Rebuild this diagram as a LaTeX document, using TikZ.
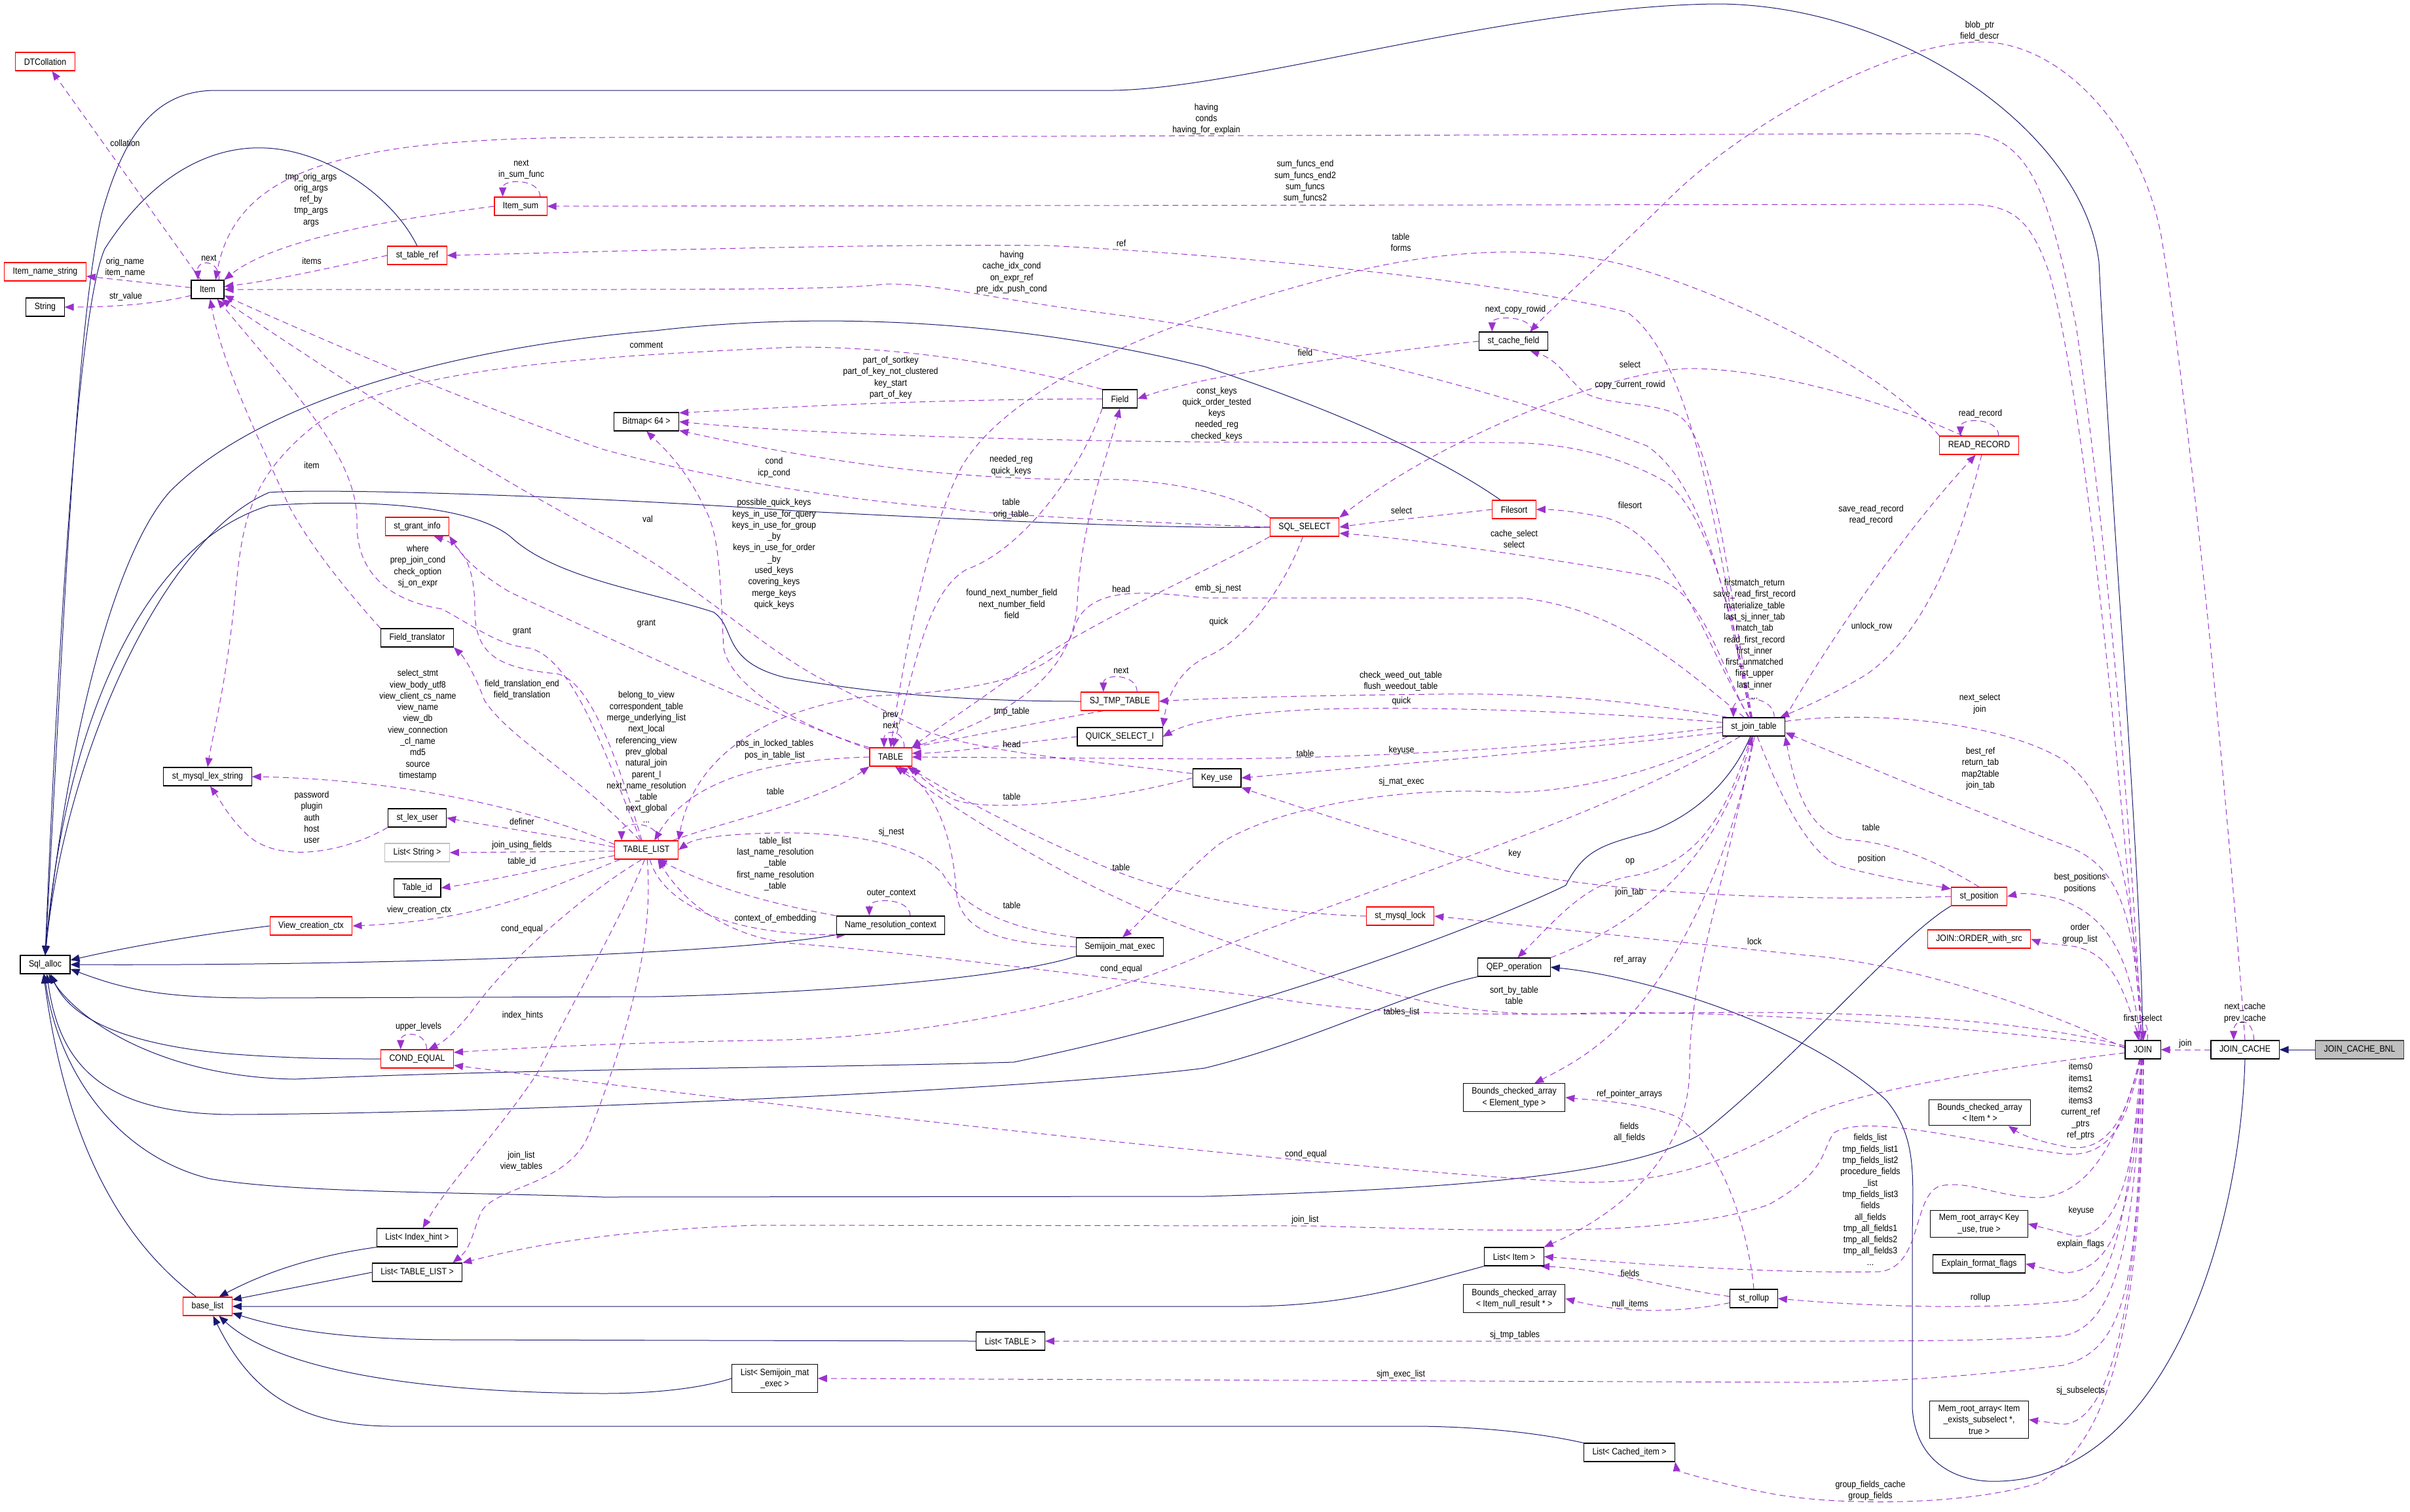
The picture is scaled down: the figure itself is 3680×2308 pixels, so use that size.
\documentclass[tikz,border=0pt]{standalone}
\usepackage{fontspec}
\setmainfont{Liberation Sans}[FakeStretch=0.88]
\usetikzlibrary{arrows.meta}
\pgfdeclarelayer{edges}
\pgfsetlayers{edges,main}
\definecolor{usecol}{HTML}{9A32CD}
\definecolor{inhcol}{HTML}{191970}
\definecolor{boxgray}{HTML}{BFBFBF}

\begin{document}
\begin{tikzpicture}[
    x=1pt, y=-1pt,
    font=\fontsize{14}{17.3}\selectfont,
    >={Triangle[length=14pt,width=11pt]},
    cls/.style={draw=black, fill=white, line width=1.1pt, inner xsep=13pt,
                inner ysep=6pt, minimum height=28pt, align=center},
    redcls/.style={cls, draw=red},
    graycls/.style={cls, draw=boxgray},
    focus/.style={cls, fill=boxgray, draw=black!75},
    use/.style={->, draw=usecol, line width=1pt, dash pattern=on 9pt off 6pt},
    inh/.style={<-, draw=inhcol, line width=1pt},
    lbl/.style={align=center, inner sep=0pt}
  ]
  \useasboundingbox (0,0) rectangle (3680,2308);

  % Classes
  \node[redcls] (n_dtc) at (69,94) {DTCollation};
  \node[redcls] (n_ins) at (69,415) {Item\_name\_string};
  \node[cls] (n_str) at (69,469) {String};
  \node[cls] (n_item) at (317,442) {Item};
  \node[redcls] (n_isum) at (795,315) {Item\_sum};
  \node[redcls] (n_tref) at (637,390) {st\_table\_ref};
  \node[cls] (n_bmp) at (987,644) {Bitmap< 64 >};
  \node[cls] (n_field) at (1710,609) {Field};
  \node[cls] (n_cfield) at (2311,521) {st\_cache\_field};
  \node[redcls] (n_fsort) at (2312,778) {Filesort};
  \node[redcls] (n_rr) at (3022,680) {READ\_RECORD};
  \node[redcls] (n_grant) at (637,804) {st\_grant\_info};
  \node[cls] (n_ftr) at (637,974) {Field\_translator};
  \node[cls] (n_lex) at (317,1186) {st\_mysql\_lex\_string};
  \node[cls] (n_luser) at (637,1249) {st\_lex\_user};
  \node[graycls] (n_lstr) at (637,1302) {List< String >};
  \node[cls] (n_tid) at (637,1356) {Table\_id};
  \node[redcls] (n_vctx) at (475,1414) {View\_creation\_ctx};
  \node[cls] (n_alloc) at (69,1473) {Sql\_alloc};
  \node[redcls] (n_sel) at (1992,805) {SQL\_SELECT};
  \node[redcls] (n_table) at (1360,1156) {TABLE};
  \node[redcls] (n_tl) at (987,1298) {TABLE\_LIST};
  \node[redcls] (n_sjtmp) at (1710,1071) {SJ\_TMP\_TABLE};
  \node[cls] (n_quick) at (1710,1125) {QUICK\_SELECT\_I};
  \node[cls] (n_keyuse) at (1858,1188) {Key\_use};
  \node[cls] (n_nrc) at (1360,1413) {Name\_resolution\_context};
  \node[cls] (n_sjm) at (1710,1446) {Semijoin\_mat\_exec};
  \node[cls] (n_jt) at (2678,1110) {st\_join\_table};
  \node[redcls] (n_lock) at (2138,1399) {st\_mysql\_lock};
  \node[cls] (n_qep) at (2312,1477) {QEP\_operation};
  \node[redcls] (n_pos) at (3022,1369) {st\_position};
  \node[redcls] (n_ord) at (3022,1434) {JOIN::ORDER\_with\_src};
  \node[redcls] (n_ceq) at (637,1617) {COND\_EQUAL};
  \node[cls] (n_lih) at (637,1890) {List< Index\_hint >};
  \node[cls] (n_ltl) at (637,1943) {List< TABLE\_LIST >};
  \node[redcls] (n_blist) at (317,1995) {base\_list};
  \node[cls] (n_ltab) at (1543,2048) {List< TABLE >};
  \node[cls] (n_lsjm) at (1183,2105) {List< Semijoin\_mat\\\_exec >};
  \node[cls] (n_bcae) at (2312,1676) {Bounds\_checked\_array\\< Element\_type >};
  \node[cls] (n_litem) at (2312,1919) {List< Item >};
  \node[cls] (n_bcan) at (2312,1983) {Bounds\_checked\_array\\< Item\_null\_result * >};
  \node[cls] (n_rollup) at (2678,1983) {st\_rollup};
  \node[cls] (n_lci) at (2488,2218) {List< Cached\_item >};
  \node[cls] (n_join) at (3272,1603) {JOIN};
  \node[cls] (n_jc) at (3428,1603) {JOIN\_CACHE};
  \node[focus] (n_bnl) at (3603,1603) {JOIN\_CACHE\_BNL};
  \node[cls] (n_bcai) at (3023,1699) {Bounds\_checked\_array\\< Item * >};
  \node[cls] (n_mrk) at (3022,1869) {Mem\_root\_array< Key\\\_use, true >};
  \node[cls] (n_eff) at (3022,1930) {Explain\_format\_flags};
  \node[cls] (n_mrs) at (3022,2168) {Mem\_root\_array< Item\\\_exists\_subselect *,\\true >};

  \begin{pgfonlayer}{edges}
  % Inheritance
  \draw[inh] (n_alloc.north) .. controls (95,1000) and (115,500) .. (155,328)
    .. controls (190,200) and (240,138) .. (330,138) -- (1700,138)
    .. controls (1900,135) and (2300,10) .. (2620,6)
    .. controls (2900,6) and (3180,200) .. (3205,400)
    .. controls (3225,800) and (3268,1300) .. (n_join.north);
  \draw[inh] (n_alloc.north) .. controls (90,950) and (120,470) .. (160,380)
    .. controls (230,270) and (320,222) .. (405,226)
    .. controls (500,230) and (600,300) .. (n_tref.north);
  \draw[inh] (n_alloc.north) .. controls (100,1150) and (170,850) .. (260,750)
    .. controls (400,610) and (700,530) .. (1000,505)
    .. controls (1300,470) and (1600,500) .. (1840,560)
    .. controls (2050,630) and (2200,700) .. (n_fsort);
  \draw[inh] (n_alloc.north) .. controls (100,1150) and (250,820) .. (411,752)
    .. controls (500,745) and (900,758) .. (1213,780)
    .. controls (1500,795) and (1800,808) .. (n_sel.west);
  \draw[inh] (n_alloc.north) .. controls (100,1100) and (220,830) .. (411,772)
    .. controls (550,762) and (720,770) .. (780,820)
    .. controls (850,885) and (1000,905) .. (1090,935)
    .. controls (1125,960) and (1100,1010) .. (1200,1035)
    .. controls (1350,1062) and (1500,1071) .. (n_sjtmp.west);
  \draw[inh] (n_alloc.10) .. controls (200,1445) and (300,1428) .. (n_vctx.west);
  \draw[inh] (n_alloc.east) .. controls (500,1475) and (1100,1460) .. (n_nrc.south west);
  \draw[inh] (n_alloc.-10) .. controls (200,1515) and (260,1524) .. (400,1524) -- (1000,1522)
    .. controls (1300,1515) and (1550,1490) .. (n_sjm.south west);
  \draw[inh] (n_alloc.-60) .. controls (110,1560) and (200,1595) .. (346,1609)
    .. controls (450,1617) and (520,1617) .. (n_ceq.west);
  \draw[inh] (n_alloc.-70) .. controls (120,1560) and (250,1645) .. (450,1648)
    .. controls (800,1632) and (1300,1630) .. (1548,1622)
    .. controls (1900,1550) and (2250,1420) .. (2391,1352)
    .. controls (2420,1295) and (2450,1290) .. (2520,1270)
    .. controls (2600,1240) and (2650,1180) .. (n_jt.-110);
  \draw[inh] (n_alloc.-80) .. controls (90,1620) and (150,1700) .. (352,1702)
    .. controls (800,1700) and (1600,1662) .. (1840,1631)
    .. controls (2000,1592) and (2150,1515) .. (n_qep.south west);
  \draw[inh] (n_alloc.-95) .. controls (90,1640) and (180,1765) .. (320,1800)
    .. controls (450,1822) and (700,1820) .. (920,1828) -- (1840,1827)
    .. controls (2250,1815) and (2500,1792) .. (2600,1730)
    .. controls (2750,1610) and (2900,1430) .. (n_pos.south west);
  \draw[inh] (n_alloc.-100) .. controls (95,1700) and (160,1875) .. (n_blist.140);
  \draw[inh] (n_blist.40) .. controls (420,1935) and (500,1915) .. (n_lih.south west);
  \draw[inh] (n_blist.15) -- (n_ltl.west);
  \draw[inh] (n_blist.east) -- (1900,1995) .. controls (2050,1995) and (2150,1965) .. (n_litem.south west);
  \draw[inh] (n_blist.-15) .. controls (450,2035) and (550,2046) .. (700,2046) -- (n_ltab.west);
  \draw[inh] (n_blist.-40) .. controls (400,2070) and (550,2126) .. (920,2128)
    .. controls (1000,2128) and (1070,2120) .. (n_lsjm.west);
  \draw[inh] (n_blist.-60) .. controls (380,2120) and (450,2178) .. (600,2178) -- (2170,2178)
    .. controls (2300,2180) and (2380,2195) .. (n_lci.north west);
  \draw[inh] (n_qep.east) .. controls (2500,1490) and (2750,1560) .. (2880,1680)
    .. controls (2930,1740) and (2920,1800) .. (2920,1900) -- (2920,2150)
    .. controls (2925,2235) and (2990,2265) .. (3053,2262)
    .. controls (3300,2255) and (3420,1900) .. (n_jc.south);
  \draw[inh] (n_jc.east) -- (n_bnl.west);

  % Item
  \draw[use] (n_item) -- (n_dtc);
  \draw[use] (n_item) -- (n_ins);
  \draw[use] (n_item.200) .. controls (230,466) and (160,469) .. (n_str.east);
  \draw[use] (n_item.40) .. controls +(2,-32) and +(-2,-32) .. (n_item.135);
  \draw[use] (n_isum.west) .. controls (600,335) and (420,365) .. (n_item.30);
  \draw[use] (n_isum.26) .. controls +(0,-28) and +(0,-28) .. (n_isum.152);
  \draw[use] (n_tref.west) .. controls (500,410) and (420,428) .. (n_item.10);
  \draw[use] (n_ftr.north west) .. controls (540,915) and (470,830) .. (440,770)
    .. controls (400,680) and (340,560) .. (n_item.-75);
  \draw[use] (n_sel.west) .. controls (1800,800) and (1500,786) .. (1448,776)
    .. controls (1250,760) and (1050,722) .. (920,686)
    .. controls (700,610) and (450,500) .. (n_item.-20);
  \draw[use] (n_keyuse.170) .. controls (1700,1165) and (1480,1150) .. (1400,1110)
    .. controls (1330,1075) and (1300,1060) .. (1249,1034)
    .. controls (1150,980) and (1050,880) .. (920,815)
    .. controls (700,700) and (450,530) .. (n_item.-35);

  % JOIN, upper part
  \draw[use] (n_join.97) .. controls (3245,1100) and (3200,700) .. (3170,497)
    .. controls (3130,300) and (3100,204) .. (3000,204) -- (920,210)
    .. controls (520,210) and (360,260) .. (n_item.50);
  \draw[use] (n_join.94) .. controls (3230,1100) and (3180,600) .. (3130,420)
    .. controls (3100,330) and (3070,312) .. (3000,312) -- (n_isum.east);
  \draw[use] (n_jc.north) .. controls (3400,1200) and (3340,600) .. (3300,360)
    .. controls (3270,200) and (3150,64) .. (3024,64)
    .. controls (2880,64) and (2650,200) .. (2544,308)
    .. controls (2450,400) and (2380,460) .. (n_cfield.30);
  \draw[use] (n_cfield.27) .. controls +(0,-25) and +(0,-25) .. (n_cfield.156);
  \draw[use] (n_cfield.west) .. controls (2050,545) and (1850,570) .. (n_field.east);

  % READ_RECORD
  \draw[use] (n_rr.north west) .. controls (2900,590) and (2700,470) .. (2500,410)
    .. controls (2400,380) and (2250,372) .. (2075,413)
    .. controls (1800,480) and (1550,580) .. (1470,710)
    .. controls (1420,800) and (1380,1000) .. (n_table.north);
  \draw[use] (n_rr.150) .. controls (2900,620) and (2700,560) .. (2573,563)
    .. controls (2450,570) and (2200,670) .. (n_sel.north east);
  \draw[use] (n_rr.26) .. controls +(0,-28) and +(0,-28) .. (n_rr.153);
  \draw[use] (n_rr.-75) .. controls (3000,800) and (2950,960) .. (2850,1030)
    .. controls (2800,1060) and (2760,1078) .. (n_jt.20);

  % st_join_table
  \draw[use] (n_jt.25) .. controls +(0,-35) and +(0,-35) .. (n_jt.155);
  \draw[use] (n_jt.105) .. controls (2630,900) and (2600,560) .. (2485,477)
    .. controls (2300,430) and (1900,390) .. (1600,375)
    .. controls (1300,372) and (900,385) .. (n_tref.east);
  \draw[use] (n_jt.110) .. controls (2635,900) and (2600,740) .. (2515,681)
    .. controls (2300,600) and (2000,520) .. (1700,480)
    .. controls (1500,455) and (1430,432) .. (1350,434)
    .. controls (1300,440) and (1200,442) .. (920,442) -- (n_item.east);
  \draw[use] (n_jt.100) .. controls (2640,900) and (2620,690) .. (2570,640)
    .. controls (2540,612) and (2460,622) .. (2420,600)
    .. controls (2395,580) and (2380,550) .. (n_cfield.-30);
  \draw[use] (n_jt.north east) .. controls (2780,1000) and (2900,820) .. (n_rr.-110);
  \draw[use] (n_jt.103) .. controls (2640,900) and (2600,780) .. (2544,736)
    .. controls (2480,700) and (2400,676) .. (2300,676) -- (1840,675)
    .. controls (1500,672) and (1200,660) .. (n_bmp.east);
  \draw[use] (n_jt.120) .. controls (2620,1000) and (2600,900) .. (2520,880)
    .. controls (2350,850) and (2150,822) .. (n_sel.-10);
  \draw[use] (n_jt.115) .. controls (2600,980) and (2560,820) .. (2450,790)
    .. controls (2400,780) and (2370,778) .. (n_fsort.east);
  \draw[use] (n_jt.135) .. controls (2580,1030) and (2480,930) .. (2321,913) -- (1840,913)
    .. controls (1760,905) and (1660,890) .. (1640,960)
    .. controls (1620,1030) and (1500,1056) .. (1331,1063)
    .. controls (1180,1080) and (1060,1150) .. (n_tl.north east);
  \draw[use] (n_jt.160) .. controls (2500,1070) and (2350,1058) .. (2200,1060)
    .. controls (2000,1062) and (1850,1066) .. (n_sjtmp.east);
  \draw[use] (n_jt.172) .. controls (2450,1088) and (2200,1078) .. (2016,1083)
    .. controls (1900,1088) and (1820,1100) .. (n_quick.east);
  \draw[use] (n_jt.west) .. controls (2400,1140) and (2100,1158) .. (1840,1159) -- (n_table.east);
  \draw[use] (n_jt.190) .. controls (2400,1145) and (2100,1170) .. (n_keyuse.east);
  \draw[use] (n_jt.200) .. controls (2550,1170) and (2420,1210) .. (2300,1210)
    .. controls (2150,1200) and (1950,1230) .. (1860,1290)
    .. controls (1800,1340) and (1750,1400) .. (n_sjm.75);
  \draw[use] (n_jt.215) .. controls (2450,1250) and (2050,1370) .. (1840,1456)
    .. controls (1700,1520) and (1450,1580) .. (1200,1588)
    .. controls (950,1592) and (800,1600) .. (n_ceq.10);
  \draw[use] (n_jt.-70) .. controls (2720,1220) and (2760,1300) .. (2807,1322)
    .. controls (2880,1342) and (2940,1350) .. (n_pos.165);
  \draw[use] (n_jt.-105) .. controls (2640,1230) and (2600,1320) .. (2490,1338)
    .. controls (2420,1350) and (2380,1400) .. (n_qep.70);
  \draw[use] (n_jt.-95) .. controls (2650,1300) and (2560,1480) .. (2480,1560)
    .. controls (2430,1610) and (2390,1630) .. (n_bcae.35);
  \draw[use] (n_jt.-85) .. controls (2620,1400) and (2580,1500) .. (2580,1630)
    .. controls (2580,1760) and (2480,1850) .. (n_litem.north east);
  \draw[use] (n_jt.10) .. controls (2850,1085) and (3050,1100) .. (3150,1160)
    .. controls (3230,1220) and (3255,1350) .. (n_join.85);

  % SQL_SELECT, Bitmap, Field, TABLE
  \draw[use] (n_field.west) .. controls (1400,610) and (1200,622) .. (n_bmp.15);
  \draw[use] (n_sel.north west) .. controls (1900,760) and (1800,735) .. (1700,732)
    .. controls (1500,735) and (1300,715) .. (n_bmp.-15);
  \draw[use] (n_table.north west) .. controls (1250,1120) and (1120,1060) .. (1105,990)
    .. controls (1100,900) and (1100,820) .. (1078,780)
    .. controls (1050,720) and (1020,690) .. (n_bmp.south);
  \draw[use] (n_table.north east) .. controls (1560,1090) and (1640,1020) .. (1645,920)
    .. controls (1650,800) and (1690,700) .. (n_field.south);
  \draw[use] (n_field.south west) .. controls (1650,720) and (1560,840) .. (1477,869)
    .. controls (1420,900) and (1400,1000) .. (n_table.75);
  \draw[use] (n_field.north west) .. controls (1550,560) and (1400,530) .. (1213,530)
    .. controls (900,545) and (600,560) .. (480,650)
    .. controls (380,730) and (370,800) .. (360,900)
    .. controls (345,1050) and (325,1120) .. (n_lex.north);
  \draw[use] (n_table.35) .. controls +(0,-28) and +(0,-28) .. (n_table.125);
  \draw[use] (n_fsort.west) .. controls (2200,787) and (2100,797) .. (n_sel.east);
  \draw[use] (n_sel.-100) .. controls (1960,900) and (1900,980) .. (1840,1004)
    .. controls (1790,1030) and (1780,1080) .. (n_quick.north east);
  \draw[use] (n_sel.south west) .. controls (1850,870) and (1680,940) .. (1550,1030)
    .. controls (1480,1080) and (1420,1120) .. (n_table.north east);
  \draw[use] (n_sjtmp.29) .. controls +(0,-28) and +(0,-28) .. (n_sjtmp.150);
  \draw[use] (n_sjtmp.-150) .. controls (1600,1100) and (1480,1125) .. (n_table.25);
  \draw[use] (n_quick.west) .. controls (1550,1135) and (1450,1150) .. (n_table.10);
  \draw[use] (n_keyuse.west) .. controls (1700,1222) and (1500,1245) .. (1450,1218)
    .. controls (1420,1200) and (1405,1185) .. (n_table.south east);
  \draw[use] (n_sjm.west) .. controls (1520,1440) and (1465,1420) .. (1460,1360)
    .. controls (1455,1280) and (1430,1210) .. (n_table.-50);
  \draw[use] (n_sjm.north west) .. controls (1550,1420) and (1470,1390) .. (1440,1335)
    .. controls (1400,1290) and (1300,1270) .. (1184,1272)
    .. controls (1100,1274) and (1060,1280) .. (n_tl.east);
  \draw[use] (n_lock.west) .. controls (1950,1395) and (1800,1372) .. (1683,1322)
    .. controls (1550,1265) and (1450,1210) .. (n_table.-30);
  \draw[use] (n_pos.west) .. controls (2700,1378) and (2450,1360) .. (2300,1330)
    .. controls (2100,1270) and (1950,1222) .. (n_keyuse.south east);
  \draw[use] (n_pos.north) .. controls (2950,1310) and (2880,1285) .. (2819,1282)
    .. controls (2760,1270) and (2740,1200) .. (n_jt.south east);
  \draw[use] (n_qep.north east) .. controls (2480,1420) and (2620,1330) .. (n_jt.-100);
  \draw[use] (n_rollup.north) .. controls (2670,1880) and (2630,1750) .. (2560,1705)
    .. controls (2500,1682) and (2430,1680) .. (n_bcae.east);
  \draw[use] (n_rollup.175) .. controls (2550,1968) and (2450,1938) .. (n_litem.-20);
  \draw[use] (n_rollup.190) .. controls (2600,1998) and (2500,2012) .. (n_bcan.east);

  % JOIN, lower part
  \draw[use] (n_join.65) .. controls +(5,-35) and +(-5,-35) .. (n_join.115);
  \draw[use] (n_jc.47) .. controls +(0,-35) and +(0,-35) .. (n_jc.140);
  \draw[use] (n_jc.west) -- (n_join.east);
  \draw[use] (n_join.100) .. controls (3260,1400) and (3240,1320) .. (3150,1290)
    .. controls (3000,1232) and (2800,1150) .. (n_jt.-10);
  \draw[use] (n_join.104) .. controls (3255,1480) and (3230,1400) .. (3141,1372)
    .. controls (3110,1365) and (3090,1363) .. (n_pos.east);
  \draw[use] (n_join.108) .. controls (3245,1520) and (3230,1460) .. (3171,1446)
    .. controls (3140,1441) and (3120,1441) .. (n_ord.east);
  \draw[use] (n_join.175) .. controls (3100,1530) and (2900,1470) .. (2760,1459)
    .. controls (2500,1432) and (2300,1410) .. (n_lock.east);
  \draw[use] (n_join.168) .. controls (3100,1560) and (2900,1548) .. (2700,1546)
    .. controls (2400,1546) and (2150,1560) .. (1950,1525)
    .. controls (1700,1495) and (1400,1455) .. (1213,1441)
    .. controls (1100,1430) and (1040,1370) .. (n_tl.-40);
  \draw[use] (n_join.172) .. controls (3000,1565) and (2600,1540) .. (2400,1548)
    .. controls (2200,1555) and (2050,1500) .. (1840,1426)
    .. controls (1650,1360) and (1480,1250) .. (n_table.-65);
  \draw[use] (n_join.190) .. controls (3100,1625) and (2850,1660) .. (2760,1704)
    .. controls (2650,1770) and (2550,1810) .. (2400,1805)
    .. controls (2000,1782) and (1200,1690) .. (n_ceq.-10);
  \draw[use] (n_join.-110) .. controls (3250,1700) and (3220,1760) .. (3160,1752)
    .. controls (3120,1745) and (3090,1735) .. (n_bcai.-25);
  \draw[use] (n_join.-102) .. controls (3250,1700) and (3230,1770) .. (3150,1762)
    .. controls (3000,1742) and (2850,1700) .. (2800,1730)
    .. controls (2780,1760) and (2790,1790) .. (2700,1840)
    .. controls (2550,1890) and (2300,1880) .. (2000,1872) -- (1155,1871)
    .. controls (900,1880) and (780,1910) .. (n_ltl.north east);
  \draw[use] (n_join.-105) .. controls (3240,1720) and (3200,1825) .. (3112,1829)
    .. controls (3050,1828) and (3000,1800) .. (2960,1812)
    .. controls (2920,1830) and (2935,1935) .. (2870,1942)
    .. controls (2700,1945) and (2500,1930) .. (n_litem.east);
  \draw[use] (n_join.-95) .. controls (3260,1800) and (3230,1885) .. (3171,1888) -- (n_mrk.east);
  \draw[use] (n_join.-92) .. controls (3258,1850) and (3230,1942) .. (3150,1944) -- (n_eff.east);
  \draw[use] (n_join.-100) .. controls (3250,1850) and (3230,1962) .. (3171,1985)
    .. controls (3050,2002) and (2850,1995) .. (n_rollup.east);
  \draw[use] (n_join.-98) .. controls (3260,1900) and (3230,2025) .. (3150,2040)
    .. controls (3050,2048) and (2900,2048) .. (2760,2048) -- (n_ltab.east);
  \draw[use] (n_join.-97) .. controls (3265,1950) and (3250,2060) .. (3150,2085)
    .. controls (3000,2102) and (2900,2110) .. (2760,2111) -- (n_lsjm.east);
  \draw[use] (n_join.-88) .. controls (3270,1900) and (3240,2172) .. (3150,2175) -- (n_mrs.east);
  \draw[use] (n_join.-85) .. controls (3270,2000) and (3230,2200) .. (3112,2265)
    .. controls (3000,2300) and (2800,2300) .. (2700,2280)
    .. controls (2620,2265) and (2560,2245) .. (n_lci.south east);

  % TABLE_LIST
  \draw[use] (n_tl.38) .. controls +(0,-30) and +(0,-30) .. (n_tl.159);
  \draw[use] (n_table.west) .. controls (1200,1160) and (1060,1180) .. (n_tl.50);
  \draw[use] (n_tl.20) .. controls (1120,1250) and (1250,1225) .. (n_table.south west);
  \draw[use] (n_nrc.north west) .. controls (1150,1375) and (1080,1350) .. (n_tl.-40);
  \draw[use] (n_tl.-70) .. controls (1010,1375) and (1100,1428) .. (n_nrc.192);
  \draw[use] (n_nrc.26) .. controls +(0,-28) and +(0,-28) .. (n_nrc.156);
  \draw[use] (n_table.160) .. controls (1150,1080) and (900,960) .. (780,905)
    .. controls (720,870) and (700,840) .. (n_grant.south east);
  \draw[use] (n_tl.115) .. controls (940,1150) and (900,1040) .. (851,1029)
    .. controls (760,1020) and (725,1000) .. (725,930)
    .. controls (725,870) and (710,835) .. (n_grant.-30);
  \draw[use] (n_tl.120) .. controls (930,1170) and (880,1010) .. (810,990)
    .. controls (760,985) and (730,960) .. (675,930)
    .. controls (600,918) and (545,880) .. (545,800)
    .. controls (548,700) and (450,600) .. (n_item.-45);
  \draw[use] (n_tl.125) .. controls (880,1180) and (780,1130) .. (740,1070)
    .. controls (725,1030) and (710,1005) .. (n_ftr.south east);
  \draw[use] (n_tl.170) .. controls (800,1230) and (600,1190) .. (n_lex.east);
  \draw[use] (n_luser.south west) .. controls (530,1300) and (430,1320) .. (380,1277)
    .. controls (350,1250) and (335,1220) .. (n_lex.-75);
  \draw[use] (n_tl.175) .. controls (850,1275) and (750,1262) .. (n_luser.east);
  \draw[use] (n_tl.182) -- (n_lstr.east);
  \draw[use] (n_tl.190) .. controls (850,1322) and (750,1345) .. (n_tid.east);
  \draw[use] (n_tl.200) .. controls (850,1350) and (750,1405) .. (n_vctx.east);
  \draw[use] (n_tl.-115) .. controls (900,1360) and (780,1460) .. (720,1545)
    .. controls (700,1570) and (680,1590) .. (n_ceq.40);
  \draw[use] (n_ceq.45) .. controls +(0,-28) and +(0,-28) .. (n_ceq.150);
  \draw[use] (n_tl.-100) .. controls (950,1400) and (880,1520) .. (821,1638)
    .. controls (760,1730) and (690,1800) .. (n_lih.60);
  \draw[use] (n_tl.-85) .. controls (1000,1450) and (950,1600) .. (900,1730)
    .. controls (870,1810) and (760,1810) .. (735,1850)
    .. controls (722,1880) and (720,1905) .. (n_ltl.15);
  \end{pgfonlayer}

  % Edge labels
  \node[lbl] (l_coll) at (191,218) {collation};
  \node[lbl] (l_name) at (191,408) {orig\_name\\item\_name};
  \node[lbl] (l_strv) at (192,453) {str\_value};
  \node[lbl] (l_inext) at (319,394) {next};
  \node[lbl] (l_args) at (475,305) {tmp\_orig\_args\\orig\_args\\ref\_by\\tmp\_args\\args};
  \node[lbl] (l_sumnext) at (796,259) {next\\in\_sum\_func};
  \node[lbl] (l_items) at (476,398) {items};
  \node[lbl] (l_item) at (476,710) {item};
  \node[lbl] (l_cond) at (1182,714) {cond\\icp\_cond};
  \node[lbl] (l_val) at (989,792) {val};
  \node[lbl] (l_having) at (1842,182) {having\\conds\\having\_for\_explain};
  \node[lbl] (l_sumf) at (1993,277) {sum\_funcs\_end\\sum\_funcs\_end2\\sum\_funcs\\sum\_funcs2};
  \node[lbl] (l_blob) at (3023,47) {blob\_ptr\\field\_descr};
  \node[lbl] (l_ncr) at (2314,473) {next\_copy\_rowid};
  \node[lbl] (l_field) at (1993,538) {field};
  \node[lbl] (l_forms) at (2139,370) {table\\forms};
  \node[lbl] (l_rsel) at (2489,556) {select};
  \node[lbl] (l_rrec) at (3024,632) {read\_record};
  \node[lbl] (l_unlock) at (2858,957) {unlock\_row};
  \node[lbl] (l_jtself) at (2679,976) {firstmatch\_return\\save\_read\_first\_record\\materialize\_table\\last\_sj\_inner\_tab\\match\_tab\\read\_first\_record\\first\_inner\\first\_unmatched\\first\_upper\\last\_inner\\...};
  \node[lbl] (l_ref) at (1712,371) {ref};
  \node[lbl] (l_hcache) at (1545,416) {having\\cache\_idx\_cond\\on\_expr\_ref\\pre\_idx\_push\_cond};
  \node[lbl] (l_ccr) at (2489,588) {copy\_current\_rowid};
  \node[lbl] (l_srr) at (2857,786) {save\_read\_record\\read\_record};
  \node[lbl] (l_ckeys) at (1858,632) {const\_keys\\quick\_order\_tested\\keys\\needed\_reg\\checked\_keys};
  \node[lbl] (l_csel) at (2312,823) {cache\_select\\select};
  \node[lbl] (l_fsort) at (2489,771) {filesort};
  \node[lbl] (l_emb) at (1860,899) {emb\_sj\_nest};
  \node[lbl] (l_weed) at (2139,1040) {check\_weed\_out\_table\\flush\_weedout\_table};
  \node[lbl] (l_quick2) at (2140,1071) {quick};
  \node[lbl] (l_jtab) at (1993,1150) {table};
  \node[lbl] (l_kuse) at (2140,1146) {keyuse};
  \node[lbl] (l_sjme) at (2140,1194) {sj\_mat\_exec};
  \node[lbl] (l_ceq1) at (1712,1480) {cond\_equal};
  \node[lbl] (l_posn) at (2858,1312) {position};
  \node[lbl] (l_op) at (2489,1316) {op};
  \node[lbl] (l_refa) at (2489,1466) {ref\_array};
  \node[lbl] (l_fall) at (2488,1729) {fields\\all\_fields};
  \node[lbl] (l_nsel) at (3023,1075) {next\_select\\join};
  \node[lbl] (l_sortkey) at (1360,577) {part\_of\_sortkey\\part\_of\_key\_not\_clustered\\key\_start\\part\_of\_key};
  \node[lbl] (l_nreg) at (1544,711) {needed\_reg\\quick\_keys};
  \node[lbl] (l_pqk) at (1182,846) {possible\_quick\_keys\\keys\_in\_use\_for\_query\\keys\_in\_use\_for\_group\\\_by\\keys\_in\_use\_for\_order\\\_by\\used\_keys\\covering\_keys\\merge\_keys\\quick\_keys};
  \node[lbl] (l_nnf) at (1545,922) {found\_next\_number\_field\\next\_number\_field\\field};
  \node[lbl] (l_otab) at (1544,777) {table\\orig\_table};
  \node[lbl] (l_comment) at (987,527) {comment};
  \node[lbl] (l_prev) at (1360,1100) {prev\\next};
  \node[lbl] (l_fsel) at (2140,779) {select};
  \node[lbl] (l_quick1) at (1861,950) {quick};
  \node[lbl] (l_head1) at (1712,899) {head};
  \node[lbl] (l_sjnext) at (1712,1024) {next};
  \node[lbl] (l_tmpt) at (1545,1087) {tmp\_table};
  \node[lbl] (l_head2) at (1545,1136) {head};
  \node[lbl] (l_kutab) at (1545,1216) {table};
  \node[lbl] (l_smtab) at (1545,1382) {table};
  \node[lbl] (l_sjn) at (1361,1271) {sj\_nest};
  \node[lbl] (l_ltab) at (1712,1324) {table};
  \node[lbl] (l_key) at (2313,1304) {key};
  \node[lbl] (l_ptab) at (2857,1263) {table};
  \node[lbl] (l_jtab2) at (2488,1363) {join\_tab};
  \node[lbl] (l_rpa) at (2488,1671) {ref\_pointer\_arrays};
  \node[lbl] (l_rfields) at (2489,1944) {fields};
  \node[lbl] (l_nulls) at (2489,1992) {null\_items};
  \node[lbl] (l_fsel2) at (3272,1556) {first\_select};
  \node[lbl] (l_cache) at (3428,1547) {next\_cache\\prev\_cache};
  \node[lbl] (l_join) at (3337,1594) {join};
  \node[lbl] (l_bref) at (3024,1174) {best\_ref\\return\_tab\\map2table\\join\_tab};
  \node[lbl] (l_bpos) at (3176,1349) {best\_positions\\positions};
  \node[lbl] (l_order) at (3176,1426) {order\\group\_list};
  \node[lbl] (l_lock) at (2679,1437) {lock};
  \node[lbl] (l_tlist) at (2140,1546) {tables\_list};
  \node[lbl] (l_sbt) at (2312,1520) {sort\_by\_table\\table};
  \node[lbl] (l_ceq2) at (1994,1763) {cond\_equal};
  \node[lbl] (l_items0) at (3177,1682) {items0\\items1\\items2\\items3\\current\_ref\\\_ptrs\\ref\_ptrs};
  \node[lbl] (l_jlist) at (1993,1863) {join\_list};
  \node[lbl] (l_flist) at (2856,1832) {fields\_list\\tmp\_fields\_list1\\tmp\_fields\_list2\\procedure\_fields\\\_list\\tmp\_fields\_list3\\fields\\all\_fields\\tmp\_all\_fields1\\tmp\_all\_fields2\\tmp\_all\_fields3\\...};
  \node[lbl] (l_kuse2) at (3178,1849) {keyuse};
  \node[lbl] (l_expl) at (3177,1900) {explain\_flags};
  \node[lbl] (l_rollup) at (3024,1982) {rollup};
  \node[lbl] (l_sjtt) at (2313,2039) {sj\_tmp\_tables};
  \node[lbl] (l_sjml) at (2139,2099) {sjm\_exec\_list};
  \node[lbl] (l_sjsub) at (3177,2124) {sj\_subselects};
  \node[lbl] (l_gfc) at (2856,2276) {group\_fields\_cache\\group\_fields};
  \node[lbl] (l_tlself) at (987,1156) {belong\_to\_view\\correspondent\_table\\merge\_underlying\_list\\next\_local\\referencing\_view\\prev\_global\\natural\_join\\parent\_l\\next\_name\_resolution\\\_table\\next\_global\\...};
  \node[lbl] (l_pos) at (1183,1145) {pos\_in\_locked\_tables\\pos\_in\_table\_list};
  \node[lbl] (l_tltab) at (1184,1208) {table};
  \node[lbl] (l_tlist2) at (1184,1319) {table\_list\\last\_name\_resolution\\\_table\\first\_name\_resolution\\\_table};
  \node[lbl] (l_ctx) at (1184,1403) {context\_of\_embedding};
  \node[lbl] (l_outer) at (1361,1364) {outer\_context};
  \node[lbl] (l_grant1) at (987,952) {grant};
  \node[lbl] (l_grant2) at (797,964) {grant};
  \node[lbl] (l_where) at (638,865) {where\\prep\_join\_cond\\check\_option\\sj\_on\_expr};
  \node[lbl] (l_ftrans) at (797,1053) {field\_translation\_end\\field\_translation};
  \node[lbl] (l_view) at (638,1107) {select\_stmt\\view\_body\_utf8\\view\_client\_cs\_name\\view\_name\\view\_db\\view\_connection\\\_cl\_name\\md5\\source\\timestamp};
  \node[lbl] (l_user) at (476,1248) {password\\plugin\\auth\\host\\user};
  \node[lbl] (l_def) at (797,1254) {definer};
  \node[lbl] (l_juf) at (797,1291) {join\_using\_fields};
  \node[lbl] (l_tid) at (797,1316) {table\_id};
  \node[lbl] (l_vctx) at (640,1390) {view\_creation\_ctx};
  \node[lbl] (l_ceq0) at (797,1419) {cond\_equal};
  \node[lbl] (l_upper) at (639,1568) {upper\_levels};
  \node[lbl] (l_ihint) at (798,1551) {index\_hints};
  \node[lbl] (l_jlv) at (796,1773) {join\_list\\view\_tables};
\end{tikzpicture}
\end{document}
